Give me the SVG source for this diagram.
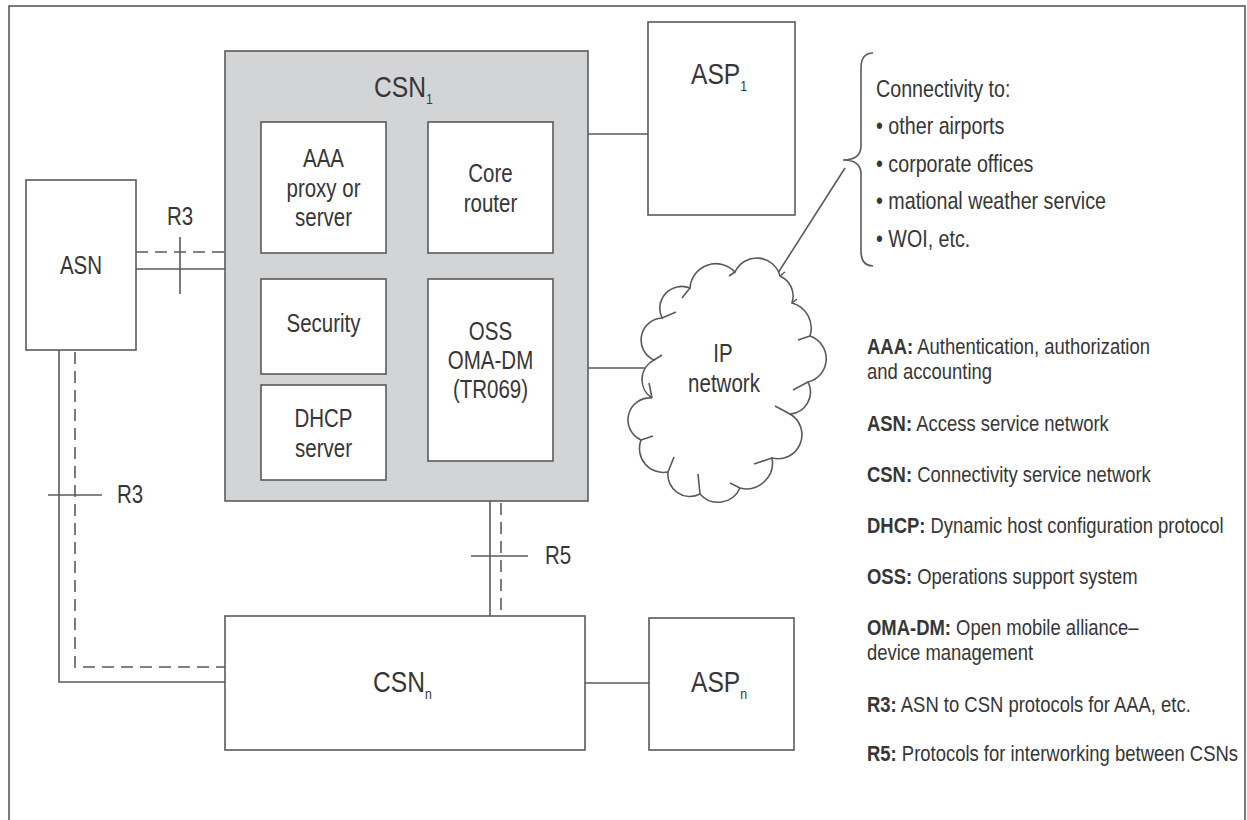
<svg xmlns="http://www.w3.org/2000/svg" width="1247" height="820" viewBox="0 0 1247 820">
  <style>
    .box { fill: #ffffff; stroke: #5a5a5a; stroke-width: 1.6; }
    .core { fill: #d3d4d6; stroke: #5a5a5a; stroke-width: 1.6; }
    .ln { fill: none; stroke: #5a5a5a; stroke-width: 1.6; }
    .dash { fill: none; stroke: #5a5a5a; stroke-width: 1.6; stroke-dasharray: 12 7; }
    text { font-family: "Liberation Sans", Arial, sans-serif; fill: #363636; }
    .lbl { font-size: 25px; text-anchor: middle; }
    .big { font-size: 30px; }
    .sub { font-size: 15px; }
    .tag { font-size: 25px; }
    .leg { font-size: 22.5px; }
    .leg tspan.b { font-weight: bold; }
    .con { font-size: 24px; }
  </style>

  <!-- outer frame -->
  <rect x="9" y="6" width="1236" height="840" fill="#ffffff" stroke="#5a5a5a" stroke-width="1.6"/>

  <!-- connectors -->
  <g id="connectors">
    <!-- ASN to CSN1 (R3) -->
    <line class="dash" x1="136" y1="252" x2="225" y2="252"/>
    <line class="ln" x1="136" y1="269" x2="225" y2="269"/>
    <line class="ln" x1="180" y1="237" x2="180" y2="294"/>
    <!-- ASN to CSNn (R3) -->
    <polyline class="dash" points="75,352 75,667 225,667"/>
    <polyline class="ln" points="59,350 59,682 225,682"/>
    <line class="ln" x1="48" y1="495" x2="102" y2="495"/>
    <!-- CSN1 to CSNn (R5) -->
    <line class="ln" x1="490" y1="501" x2="490" y2="616"/>
    <line class="dash" x1="501" y1="503" x2="501" y2="616"/>
    <line class="ln" x1="471" y1="556" x2="528" y2="556"/>
    <!-- service links -->
    <line class="ln" x1="588" y1="134" x2="648" y2="134"/>
    <line class="ln" x1="588" y1="368" x2="652" y2="368"/>
    <line class="ln" x1="585" y1="683" x2="649" y2="683"/>
    <line class="ln" x1="778" y1="273" x2="845" y2="168"/>
  </g>

  <!-- interface labels (narrowed type) -->
  <g id="labels">
    <text class="tag" transform="translate(167 225) scale(0.82 1)">R3</text>
    <text class="tag" transform="translate(117 503) scale(0.82 1)">R3</text>
    <text class="tag" transform="translate(545 564) scale(0.82 1)">R5</text>
  </g>

  <!-- access service network -->
  <g id="asn">
    <rect class="box" x="26" y="180" width="110" height="170"/>
    <text class="lbl" transform="translate(81 274) scale(0.82 1)">ASN</text>
  </g>

  <!-- connectivity service network 1 with its functions -->
  <g id="csn1">
    <rect class="core" x="225" y="51" width="363" height="450"/>
    <text class="big" transform="translate(374 97) scale(0.82 1)">CSN<tspan class="sub" dy="7">1</tspan></text>
  </g>
  <g id="aaa">
    <rect class="box" x="261" y="122" width="125" height="131"/>
    <text class="lbl" transform="translate(323.5 167) scale(0.82 1)">AAA</text>
    <text class="lbl" transform="translate(323.5 197) scale(0.82 1)">proxy or</text>
    <text class="lbl" transform="translate(323.5 226) scale(0.82 1)">server</text>
  </g>
  <g id="core-router">
    <rect class="box" x="428" y="122" width="125" height="131"/>
    <text class="lbl" transform="translate(490.5 182) scale(0.82 1)">Core</text>
    <text class="lbl" transform="translate(490.5 212) scale(0.82 1)">router</text>
  </g>
  <g id="security">
    <rect class="box" x="261" y="279" width="125" height="95"/>
    <text class="lbl" transform="translate(323.5 332) scale(0.82 1)">Security</text>
  </g>
  <g id="dhcp">
    <rect class="box" x="261" y="385" width="125" height="95"/>
    <text class="lbl" transform="translate(323.5 427) scale(0.82 1)">DHCP</text>
    <text class="lbl" transform="translate(323.5 457) scale(0.82 1)">server</text>
  </g>
  <g id="oss">
    <rect class="box" x="428" y="279" width="125" height="182"/>
    <text class="lbl" transform="translate(490.5 340) scale(0.82 1)">OSS</text>
    <text class="lbl" transform="translate(490.5 369) scale(0.82 1)">OMA-DM</text>
    <text class="lbl" transform="translate(490.5 398) scale(0.82 1)">(TR069)</text>
  </g>

  <!-- application service provider 1 -->
  <g id="asp1">
    <rect class="box" x="648" y="22" width="147" height="193"/>
    <text class="big" transform="translate(691 84) scale(0.82 1)">ASP<tspan class="sub" dy="7">1</tspan></text>
  </g>

  <!-- IP network cloud -->
  <g id="ip-network">
    <path class="box" d="M662,318 A22,22 0 0 1 690,288 A26,26 0 0 1 735,272 A24,24 0 0 1 780,276 A22,22 0 0 1 792,303 A26,26 0 0 1 810,336 A24,24 0 0 1 808,382 A22,22 0 0 1 790,414 A24,24 0 0 1 772,458 A26,26 0 0 1 740,488 A24,24 0 0 1 700,494 A22,22 0 0 1 668,472 A24,24 0 0 1 641,440 A22,22 0 0 1 652,398 A22,22 0 0 1 654,360 A22,22 0 0 1 662,318 Z"/>
    <!-- overlapping arc tails of the cloud outline -->
    <path class="ln" d="M690,288 l-8,10 M735,272 l-6,4 M780,276 l5,-4 M792,303 l5,-4 M810,336 l-12,4 M808,382 l-15,8 M790,414 l-15,-8 M772,458 l-18,6 M740,488 l-10,-5 M700,494 l-2,-20 M668,472 l6,-15 M641,440 l12,-4 M652,398 l-3,-15 M654,360 l8,-5 M662,318 l14,-6"/>
    <text class="lbl" transform="translate(723 362) scale(0.82 1)">IP</text>
    <text class="lbl" transform="translate(724 392) scale(0.82 1)">network</text>
  </g>

  <!-- connectivity list with brace -->
  <g id="connectivity">
    <path class="ln" d="M873,53 Q861,53 861,68 L861,146 Q861,160 843,160 Q861,160 861,174 L861,251 Q861,266 873,266"/>
    <text class="con" transform="translate(876 97) scale(0.82 1)">Connectivity to:</text>
    <text class="con" transform="translate(876 134) scale(0.82 1)">• other airports</text>
    <text class="con" transform="translate(876 172) scale(0.82 1)">• corporate offices</text>
    <text class="con" transform="translate(876 209) scale(0.82 1)">• mational weather service</text>
    <text class="con" transform="translate(876 247) scale(0.82 1)">• WOI, etc.</text>
  </g>

  <!-- connectivity service network n -->
  <g id="csnn">
    <rect class="box" x="225" y="616" width="360" height="134"/>
    <text class="big" transform="translate(373 692) scale(0.82 1)">CSN<tspan class="sub" dy="7">n</tspan></text>
  </g>

  <!-- application service provider n -->
  <g id="aspn">
    <rect class="box" x="649" y="618" width="145" height="132"/>
    <text class="big" transform="translate(691 692) scale(0.82 1)">ASP<tspan class="sub" dy="7">n</tspan></text>
  </g>

  <!-- abbreviations -->
  <g id="legend">
    <text class="leg" transform="translate(867 354) scale(0.82 1)"><tspan class="b">AAA:</tspan> Authentication, authorization</text>
    <text class="leg" transform="translate(867 379) scale(0.82 1)">and accounting</text>
    <text class="leg" transform="translate(867 431) scale(0.82 1)"><tspan class="b">ASN:</tspan> Access service network</text>
    <text class="leg" transform="translate(867 482) scale(0.82 1)"><tspan class="b">CSN:</tspan> Connectivity service network</text>
    <text class="leg" transform="translate(867 533) scale(0.82 1)"><tspan class="b">DHCP:</tspan> Dynamic host configuration protocol</text>
    <text class="leg" transform="translate(867 584) scale(0.82 1)"><tspan class="b">OSS:</tspan> Operations support system</text>
    <text class="leg" transform="translate(867 635) scale(0.82 1)"><tspan class="b">OMA-DM:</tspan> Open mobile alliance–</text>
    <text class="leg" transform="translate(867 660) scale(0.82 1)">device management</text>
    <text class="leg" transform="translate(867 712) scale(0.82 1)"><tspan class="b">R3:</tspan> ASN to CSN protocols for AAA, etc.</text>
    <text class="leg" transform="translate(867 761) scale(0.82 1)"><tspan class="b">R5:</tspan> Protocols for interworking between CSNs</text>
  </g>
</svg>
